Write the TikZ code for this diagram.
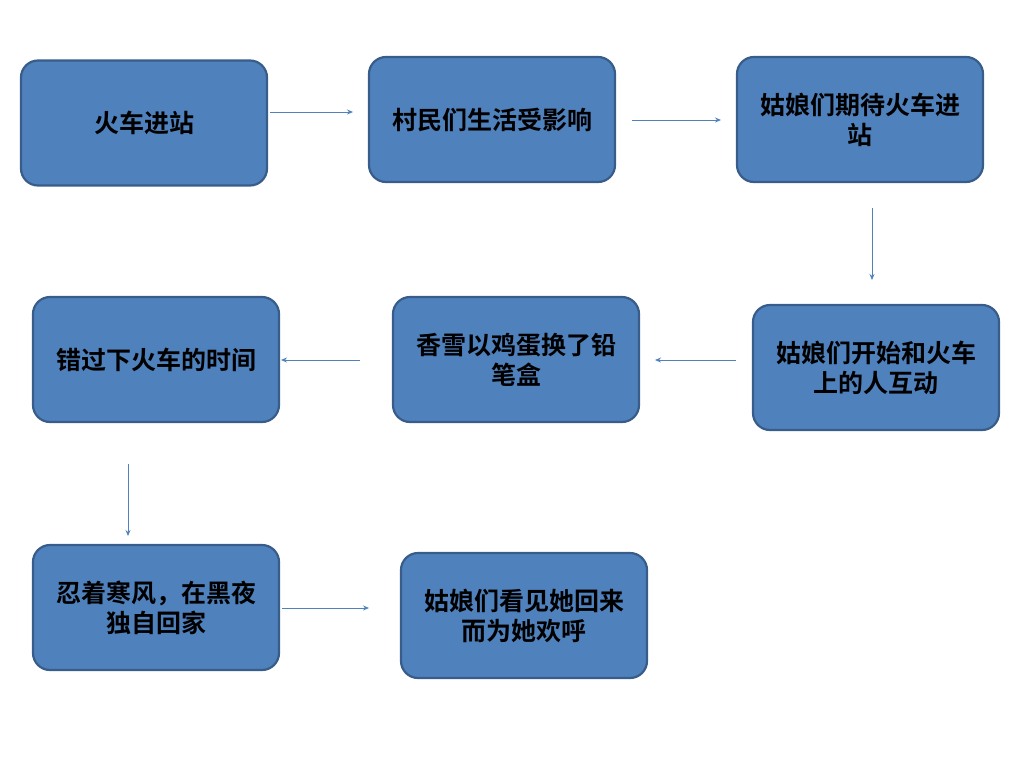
\documentclass[tikz,border=0pt]{standalone}
\usepackage{fontspec}
\newfontfamily\cjk{Noto Sans CJK SC}[BoldFont={Noto Sans CJK SC Bold}]
\usetikzlibrary{arrows.meta}
\definecolor{boxfill}{HTML}{4F81BD}
\definecolor{boxline}{HTML}{385D8A}
\begin{document}
\begin{tikzpicture}[x=1pt,y=-1pt,
  stepbox/.style={draw=boxline, fill=boxfill, line width=2.2pt, rounded corners=17pt,
    minimum width=246pt, minimum height=125pt, align=center, inner sep=0pt,
    font=\cjk\bfseries\fontsize{25}{30}\selectfont, text=black},
  conn/.style={draw=boxfill, line width=0.9pt, -{Stealth[length=6pt,width=5pt]}}]
\useasboundingbox (0,0) rectangle (1024,768);
\node[stepbox] (b1) at (144,123) {火车进站};
\node[stepbox] (b2) at (492,119.5) {村民们生活受影响};
\node[stepbox] (b3) at (860,119.5) {姑娘们期待火车进\\站};
\node[stepbox] (b4) at (876,367.5) {姑娘们开始和火车\\上的人互动};
\node[stepbox] (b5) at (516,359.5) {香雪以鸡蛋换了铅\\笔盒};
\node[stepbox] (b6) at (156,359.5) {错过下火车的时间};
\node[stepbox] (b7) at (156,607.5) {忍着寒风，在黑夜\\独自回家};
\node[stepbox] (b8) at (524,615.5) {姑娘们看见她回来\\而为她欢呼};
\coordinate (a1s) at (270,112); \coordinate (a1e) at (353,112);
\coordinate (a2s) at (632,120); \coordinate (a2e) at (721,120);
\coordinate (a3s) at (872,208); \coordinate (a3e) at (872,280);
\coordinate (a4s) at (736,360); \coordinate (a4e) at (655,360);
\coordinate (a5s) at (360,360); \coordinate (a5e) at (281,360);
\coordinate (a6s) at (128,464); \coordinate (a6e) at (128,536);
\coordinate (a7s) at (282,608); \coordinate (a7e) at (369,608);
\draw[conn] (a1s) -- (a1e);
\draw[conn] (a2s) -- (a2e);
\draw[conn] (a3s) -- (a3e);
\draw[conn] (a4s) -- (a4e);
\draw[conn] (a5s) -- (a5e);
\draw[conn] (a6s) -- (a6e);
\draw[conn] (a7s) -- (a7e);
\end{tikzpicture}
\end{document}
